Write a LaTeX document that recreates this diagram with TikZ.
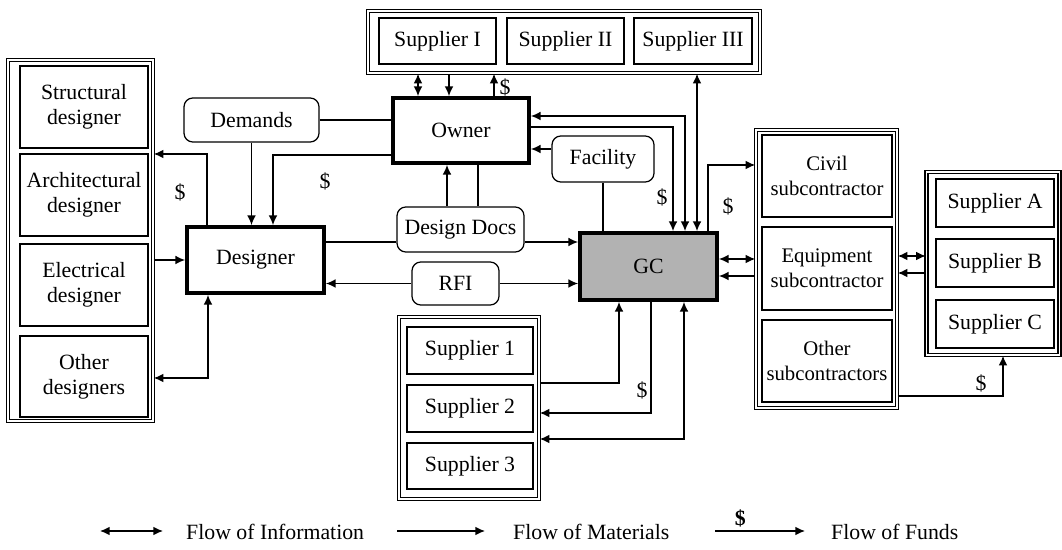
\documentclass[tikz,border=0pt]{standalone}
\usepackage{fontspec}
\setmainfont{Liberation Serif}
\usetikzlibrary{arrows.meta}

\begin{document}
\begin{tikzpicture}[x=0.02cm, y=-0.02cm, >={Latex[length=5.5pt,width=5pt]},
    font=\fontsize{12.4}{14}\selectfont,
    unit/.style={draw, line width=1.4pt, align=center, inner sep=1pt},
    sub/.style={unit, inner sep=0pt, font=\fontsize{11.8}{14}\selectfont},
    party/.style={draw, line width=2.2pt, align=center},
    group/.style={draw, double, double distance=0.9pt, line width=0.9pt},
    doc/.style={draw, rounded corners=5pt, line width=0.7pt},
    flow/.style={line width=0.8pt},
    fund/.style={inner sep=1pt}]
    \useasboundingbox (0,0) rectangle (1062,550);

    % Groups
    \node [group, minimum width=2.9cm, minimum height=7.22cm]  (desgrp) at (80.5,240.5) {};
    \node [group, minimum width=7.84cm, minimum height=1.24cm] (topgrp) at (564,42)     {};
    \node [group, minimum width=2.8cm, minimum height=3.64cm]  (botgrp) at (469,408)    {};
    \node [group, minimum width=2.82cm, minimum height=5.56cm] (subgrp) at (826.5,269)  {};
    \node [group, minimum width=2.66cm, minimum height=3.66cm] (abcgrp) at (993,263.5)  {};

    % Designers
    \node [unit, minimum width=2.56cm, minimum height=1.64cm] (struct) at (84,107)   {Structural\\designer};
    \node [unit, minimum width=2.56cm, minimum height=1.64cm] (arch)   at (84,195)   {Architectural\\designer};
    \node [unit, minimum width=2.56cm, minimum height=1.64cm] (elec)   at (84,285)   {Electrical\\designer};
    \node [unit, minimum width=2.56cm, minimum height=1.62cm] (othdes) at (84,376.5) {Other\\designers};

    % Suppliers
    \node [unit, minimum width=2.34cm, minimum height=0.92cm] (supI)   at (437.5,41) {Supplier I};
    \node [unit, minimum width=2.34cm, minimum height=0.92cm] (supII)  at (565.5,41) {Supplier II};
    \node [unit, minimum width=2.36cm, minimum height=0.92cm] (supIII) at (693,41)   {Supplier III};
    \node [unit, minimum width=2.52cm, minimum height=0.94cm] (sup1) at (470,350.5) {Supplier 1};
    \node [unit, minimum width=2.52cm, minimum height=0.94cm] (sup2) at (470,408.5) {Supplier 2};
    \node [unit, minimum width=2.52cm, minimum height=0.92cm] (sup3) at (470,466)   {Supplier 3};
    \node [unit, minimum width=2.36cm, minimum height=0.96cm] (supA) at (995,203) {Supplier A};
    \node [unit, minimum width=2.36cm, minimum height=0.96cm] (supB) at (995,263) {Supplier B};
    \node [unit, minimum width=2.36cm, minimum height=0.96cm] (supC) at (995,324) {Supplier C};

    % Subcontractors
    \node [sub, minimum width=2.6cm, minimum height=1.64cm] (civil)  at (827,176)   {Civil\\subcontractor};
    \node [sub, minimum width=2.6cm, minimum height=1.66cm] (equip)  at (827,268.5) {Equipment\\subcontractor};
    \node [sub, minimum width=2.6cm, minimum height=1.64cm] (othsub) at (827,361)   {Other\\subcontractors};

    % Parties
    \node [party, minimum width=2.74cm, minimum height=1.32cm] (designer) at (255.5,260) {Designer};
    \node [party, minimum width=2.72cm, minimum height=1.3cm]  (owner)    at (461,130.5) {Owner};
    \node [party, fill=gray!60, minimum width=2.74cm, minimum height=1.34cm] (gc) at (648.5,266.5) {GC};

    % Documents
    \node [doc, minimum width=2.7cm, minimum height=0.88cm]  (demands)  at (251.5,120)   {Demands};
    \node [doc, minimum width=2.04cm, minimum height=0.92cm] (facility) at (603,159)     {Facility};
    \node [doc, minimum width=2.54cm, minimum height=0.9cm]  (docs)     at (460.5,229.5) {Design Docs};
    \node [doc, minimum width=1.74cm, minimum height=0.86cm] (rfi)      at (455.5,283.5) {RFI};

    % Bends
    \coordinate (b1)  at (207,154);
    \coordinate (b3)  at (273,155);
    \coordinate (b6)  at (208,378);
    \coordinate (b7)  at (0,242);
    \coordinate (b11) at (447,0);
    \coordinate (b12) at (478,0);
    \coordinate (b13) at (418,0);
    \coordinate (b14) at (449,0);
    \coordinate (b15) at (494,0);
    \coordinate (b16) at (685,116);
    \coordinate (b17) at (673,127);
    \coordinate (b18) at (0,149);
    \coordinate (b20) at (697,0);
    \coordinate (b21) at (708,165);
    \coordinate (b22) at (0,259);
    \coordinate (b23) at (0,276);
    \coordinate (b24) at (0,256);
    \coordinate (b25) at (0,273);
    \coordinate (b26) at (1003,396);
    \coordinate (b27) at (619,383);
    \coordinate (b28) at (651,413);
    \coordinate (b29) at (684,439);

    % Paths
    \draw [flow, ->]  (designer.north -| b1) |- (desgrp.east |- b1);
    \draw [flow, ->]  (demands.south) -- (demands.south |- designer.north);
    \draw [flow, ->]  (owner.west |- b3) -| (designer.north -| b3);
    \draw [flow]      (demands.east) -- (demands.east -| owner.west);
    \draw [flow, ->]  (desgrp.east |- designer.west) -- (designer.west);
    \draw [flow, <->] (designer.south -| b6) |- (desgrp.east |- b6);
    \draw [flow]      (designer.east |- b7) -- (docs.west |- b7);
    \draw [flow, ->]  (docs.east |- b7) -- (gc.west |- b7);
    \draw [flow, <-]  (designer.east |- rfi.west) -- (rfi.west);
    \draw [flow, ->]  (rfi.east) -- (rfi.east -| gc.west);
    \draw [flow, ->]  (docs.north -| b11) -- (owner.south -| b11);
    \draw [flow]      (owner.south -| b12) -- (docs.north -| b12);
    \draw [flow, <->] (topgrp.south -| b13) -- (owner.north -| b13);
    \draw [flow, ->]  (topgrp.south -| b14) -- (owner.north -| b14);
    \draw [flow, ->]  (owner.north -| b15) -- (topgrp.south -| b15);
    \draw [flow, <->] (owner.east |- b16) -| (gc.north -| b16);
    \draw [flow, ->]  (owner.east |- b17) -| (gc.north -| b17);
    \draw [flow, ->]  (facility.west |- b18) -- (owner.east |- b18);
    \draw [flow]      (facility.south) -- (facility.south |- gc.north);
    \draw [flow, <->] (topgrp.south -| b20) -- (gc.north -| b20);
    \draw [flow, ->]  (gc.north -| b21) |- (subgrp.west |- b21);
    \draw [flow, <->] (gc.east |- b22) -- (subgrp.west |- b22);
    \draw [flow, <-]  (gc.east |- b23) -- (subgrp.west |- b23);
    \draw [flow, <->] (subgrp.east |- b24) -- (abcgrp.west |- b24);
    \draw [flow, <-]  (subgrp.east |- b25) -- (abcgrp.west |- b25);
    \draw [flow, ->]  (subgrp.east |- b26) -| (abcgrp.south -| b26);
    \draw [flow, ->]  (botgrp.east |- b27) -| (gc.south -| b27);
    \draw [flow, ->]  (gc.south -| b28) |- (botgrp.east |- b28);
    \draw [flow, <->] (gc.south -| b29) |- (botgrp.east |- b29);

    % Funds
    \node [fund] (usd1) at (180,192) {\$};
    \node [fund] (usd2) at (325,181) {\$};
    \node [fund] (usd3) at (505,87)  {\$};
    \node [fund] (usd4) at (662,197) {\$};
    \node [fund] (usd5) at (728,206) {\$};
    \node [fund] (usd6) at (642,390) {\$};
    \node [fund] (usd7) at (981,383) {\$};

    % Legend
    \coordinate (li1) at (100,531);
    \coordinate (li2) at (163,531);
    \coordinate (lm1) at (397,531);
    \coordinate (lm2) at (485,531);
    \coordinate (lf1) at (715,531);
    \coordinate (lf2) at (805,531);
    \draw [flow, <->] (li1) -- (li2);
    \draw [flow, ->]  (lm1) -- (lm2);
    \draw [flow, ->]  (lf1) -- (lf2) node [fund, pos=0.28, above=1pt] (usdl) {\textbf{\$}};
    \node [anchor=west] (linfo) at (180,532) {Flow of Information};
    \node [anchor=west] (lmat)  at (507,532) {Flow of Materials};
    \node [anchor=west] (lfund) at (825,532) {Flow of Funds};
\end{tikzpicture}
\end{document}
